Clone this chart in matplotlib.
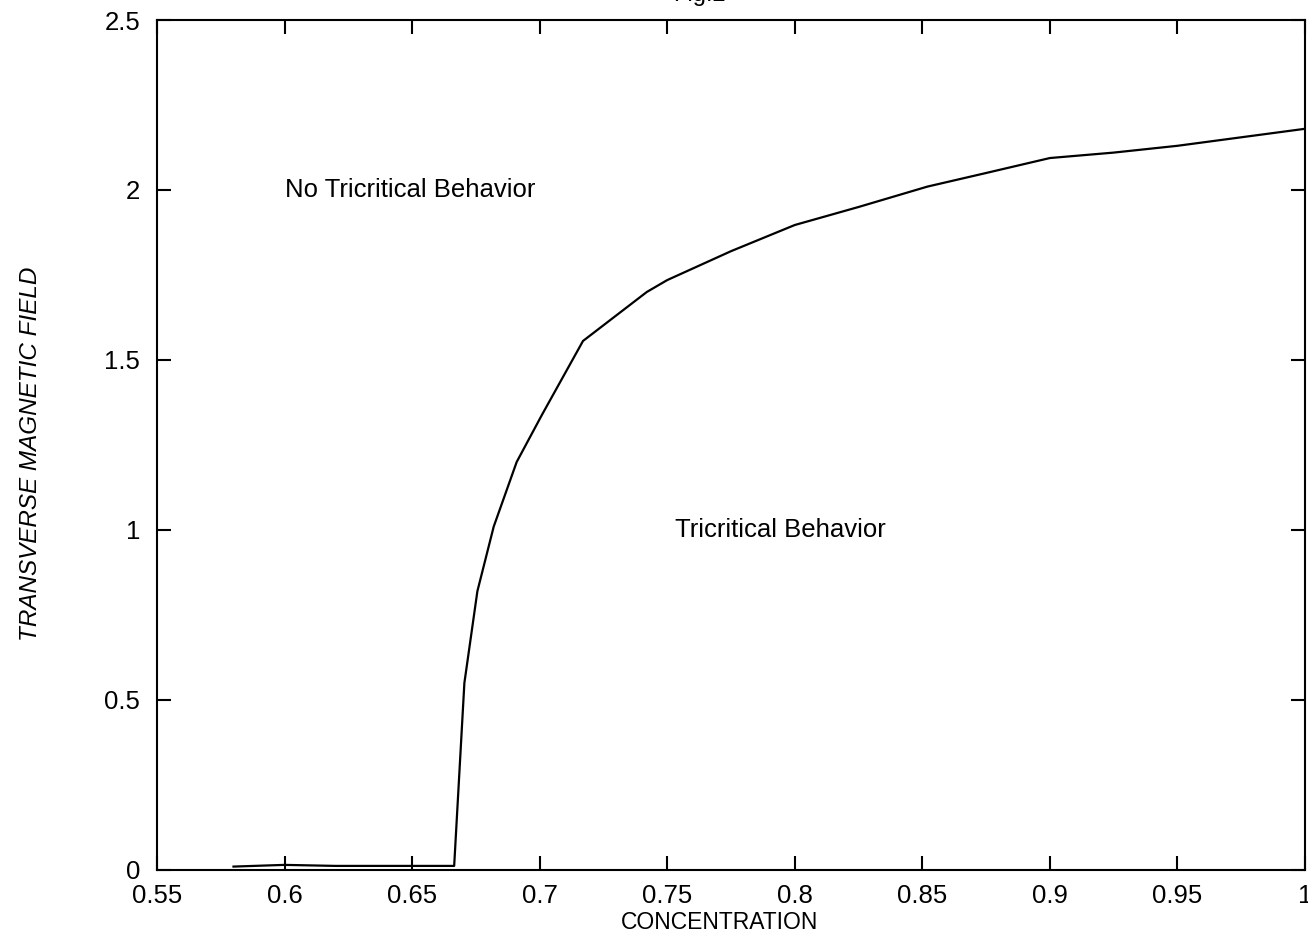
import matplotlib
matplotlib.use("Agg")
import matplotlib.pyplot as plt

conc = [0.58, 0.60, 0.62, 0.65, 0.6665, 0.6705, 0.6756, 0.682, 0.691, 0.701,
        0.717, 0.742, 0.75, 0.775, 0.80, 0.825, 0.852, 0.875, 0.90, 0.925, 0.95, 0.975, 1.0]
field = [0.01, 0.015, 0.012, 0.012, 0.012, 0.55, 0.82, 1.01, 1.20, 1.34,
         1.556, 1.70, 1.735, 1.82, 1.897, 1.95, 2.01, 2.05, 2.094, 2.11, 2.13, 2.155, 2.18]
xticks = [0.55, 0.6, 0.65, 0.7, 0.75, 0.8, 0.85, 0.9, 0.95, 1.0]
xticklabels = ["0.55", "0.6", "0.65", "0.7", "0.75", "0.8", "0.85", "0.9", "0.95", "1"]
yticks = [0, 0.5, 1, 1.5, 2, 2.5]
yticklabels = ["0", "0.5", "1", "1.5", "2", "2.5"]

plt.rcParams['font.family'] = ['Liberation Sans', 'DejaVu Sans']
fig = plt.figure(figsize=(13.08, 9.39), dpi=100)
ax = fig.add_axes([0.12, 0.0735, 0.8777, 0.9052])
ax.plot(conc, field, color='black', lw=1.6)
ax.set_xlim(0.55, 1.0)
ax.set_ylim(0, 2.5)
ax.set_xticks(xticks)
ax.set_xticklabels(xticklabels)
ax.set_yticks(yticks)
ax.set_yticklabels(yticklabels)
ax.tick_params(direction='in', length=10, width=1.5, labelsize=18.5, top=True, right=True)
ax.tick_params(axis='x', pad=10)
ax.tick_params(axis='y', pad=12)
for s in ax.spines.values():
    s.set_linewidth(1.5)
ax.set_xlabel("CONCENTRATION", fontsize=16.5)
ax.xaxis.set_label_coords(0.49, -0.048)
ax.set_ylabel("TRANSVERSE MAGNETIC FIELD", fontsize=17.5, style='italic')
ax.yaxis.set_label_coords(-0.100, 0.49)
ax.text(0.6, 2.0, "No Tricritical Behavior", fontsize=18.5, va='center', ha='left')
ax.text(0.753, 1.0, "Tricritical Behavior", fontsize=18.5, va='center', ha='left')
fig.text(0.535, 1.005, "Fig.2", fontsize=17, ha='center', va='center')
fig.savefig("out.png", dpi=100)
